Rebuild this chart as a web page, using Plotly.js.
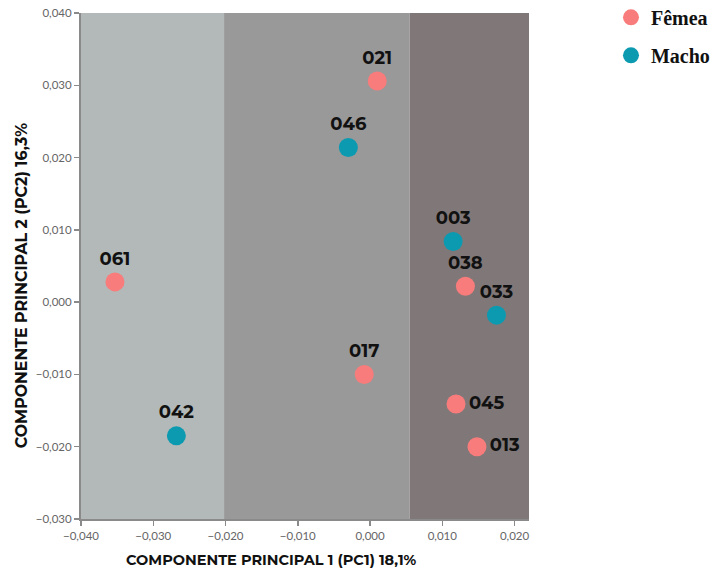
<!DOCTYPE html>
<html>
<head>
<meta charset="utf-8">
<script src="https://cdn.plot.ly/plotly-3.0.1.min.js"></script>
<style>html,body{margin:0;padding:0;background:#fff;}#chart{width:718px;height:573px;}</style>
</head>
<body>
<div id="chart"></div>
<script>
// Data
const femeaIds = ['021', '061', '038', '017', '045', '013'];
const femeaPC1 = [0.0010, -0.0353, 0.0132, -0.0008, 0.0119, 0.0148];
const femeaPC2 = [0.0306, 0.0028, 0.0022, -0.0100, -0.0141, -0.0200];
const femeaLabelPos = ['top center', 'top center', 'top center', 'top center', 'middle right', 'middle right'];

const machoIds = ['046', '003', '033', '042'];
const machoPC1 = [-0.0030, 0.0115, 0.0175, -0.0268];
const machoPC2 = [0.0214, 0.0084, -0.0018, -0.0185];
const machoLabelPos = ['top center', 'top center', 'top center', 'top center'];

const xTicks = [-0.040, -0.030, -0.020, -0.010, 0.000, 0.010, 0.020];
const yTicks = [-0.030, -0.020, -0.010, 0.000, 0.010, 0.020, 0.030, 0.040];
const bandEdges = [-0.040, -0.0202, 0.0055, 0.022];
const bandColors = ['#b2b9b8', '#999999', '#807878'];
const xTitle = 'COMPONENTE PRINCIPAL 1 (PC1) 18,1%';
const yTitle = 'COMPONENTE PRINCIPAL 2 (PC2) 16,3%';

const sansBold = 'Montserrat, "Open Sans", Lato, sans-serif';
const labelFont = {family: sansBold, size: 18, color: '#111', weight: 'bold'};

const traces = [
  {
    type: 'scatter', mode: 'markers+text', name: 'Fêmea', legendgroup: 'f',
    x: femeaPC1, y: femeaPC2, text: femeaIds, textposition: femeaLabelPos,
    textfont: labelFont, cliponaxis: false,
    marker: {size: 19, color: '#f87c7b'}
  },
  {
    type: 'scatter', mode: 'markers+text', name: 'Macho', legendgroup: 'm',
    x: machoPC1, y: machoPC2, text: machoIds, textposition: machoLabelPos,
    textfont: labelFont, cliponaxis: false,
    marker: {size: 19, color: '#0c9ab1'}
  }
];

const shapes = bandColors.map((c, i) => ({
  type: 'rect', xref: 'x', yref: 'paper', x0: bandEdges[i], x1: bandEdges[i + 1], y0: 0, y1: 1,
  fillcolor: c, line: {width: 0}, layer: 'below'
}));

const axisCommon = {
  showgrid: false, zeroline: false, showline: true, linecolor: '#8a8a8a', linewidth: 2,
  ticks: 'outside', ticklen: 5, tickcolor: '#8a8a8a', tickwidth: 1.5,
  tickformat: '.3f', tickfont: {family: 'Lato, "Open Sans", sans-serif', size: 11.5, color: '#666'}
};

const layout = {
  width: 718, height: 573,
  margin: {l: 81, r: 189, t: 13, b: 54, autoexpand: false},
  paper_bgcolor: '#ffffff', plot_bgcolor: '#ffffff',
  separators: ',.',
  showlegend: true,
  legend: {
    x: 1.183, y: 1.03, xanchor: 'left', yanchor: 'top',
    font: {family: '"Liberation Serif", "Times New Roman", serif', size: 20, color: '#111', weight: 'bold'},
    itemsizing: 'trace', tracegroupgap: 9, bgcolor: 'rgba(0,0,0,0)', itemwidth: 30
  },
  xaxis: Object.assign({}, axisCommon, {range: [-0.040, 0.022], tickvals: xTicks}),
  yaxis: Object.assign({}, axisCommon, {range: [-0.030, 0.040], tickvals: yTicks}),
  annotations: [
    {text: xTitle, xref: 'paper', yref: 'paper', x: 0.426, y: 0, yshift: -41, showarrow: false,
      xanchor: 'center', yanchor: 'middle', font: {family: sansBold, size: 14.5, color: '#111', weight: 'bold'}},
    {text: yTitle, xref: 'paper', yref: 'paper', x: 0, xshift: -60, y: 0.46, textangle: -90, showarrow: false,
      xanchor: 'center', yanchor: 'middle', font: {family: sansBold, size: 15.8, color: '#111', weight: 'bold'}}
  ],
  shapes: shapes
};

Plotly.newPlot('chart', traces, layout, {displayModeBar: false, staticPlot: true});
</script>
</body>
</html>
